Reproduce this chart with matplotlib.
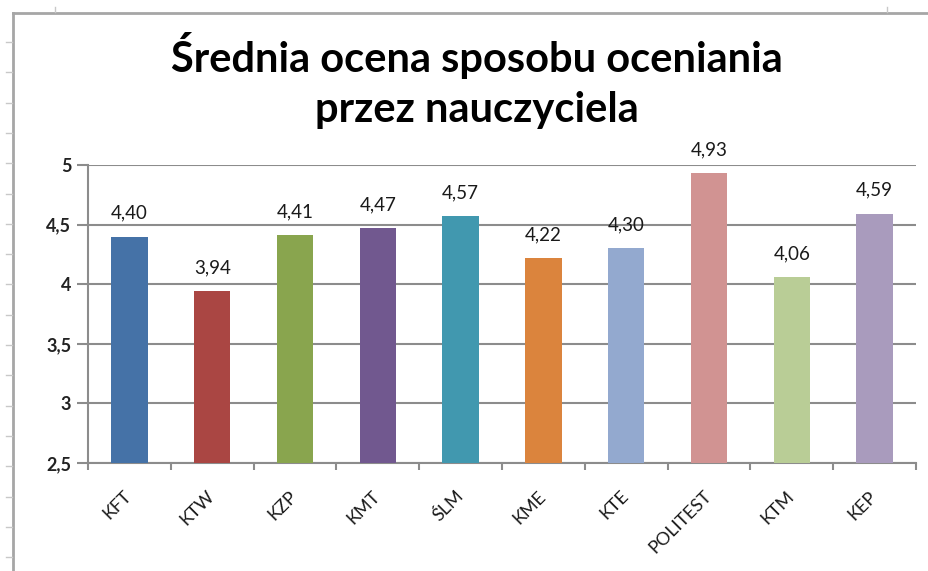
import matplotlib.pyplot as plt
import numpy as np
from matplotlib.lines import Line2D

# Data
categories = ['KFT', 'KTW', 'KZP', 'KMT', 'ŚLM', 'KME', 'KTE', 'POLITEST', 'KTM', 'KEP']
values = [4.40, 3.94, 4.41, 4.47, 4.57, 4.22, 4.30, 4.93, 4.06, 4.59]
colors = ['#4572A7', '#AA4643', '#89A54E', '#71588F', '#4198AF',
          '#DB843D', '#93A9CF', '#D19392', '#B9CD96', '#A99BBD']
yticks = [2.5, 3, 3.5, 4, 4.5, 5]
title_lines = ['Średnia ocena sposobu oceniania', 'przez nauczyciela']

plt.rcParams['font.family'] = ['Lato', 'DejaVu Sans']

fw, fh = 929, 571
fig = plt.figure(figsize=(fw / 100, fh / 100), dpi=100)
ax = fig.add_axes([0.0947, 0.189, 0.8913, 0.522])

x = np.arange(len(categories))
ax.bar(x, np.array(values) - 2.5, bottom=2.5, width=0.44, color=colors, zorder=3)

# value labels with comma decimals
for xi, v in zip(x, values):
    ax.annotate(f'{v:.2f}'.replace('.', ','), (xi, v), xytext=(0, 13),
                textcoords='offset points', ha='center', va='baseline',
                fontsize=13.5, color='#1a1a1a')

ax.set_xlim(-0.5, len(categories) - 0.5)
ax.set_ylim(2.5, 5)
ax.set_yticks(yticks)
ax.set_yticklabels([f'{t:g}'.replace('.', ',') for t in yticks], fontsize=13,
                   fontweight='bold', color='#222222')
ax.yaxis.grid(True, color='#8c8c8c', linewidth=1.5, zorder=0)

ax.set_xticks(x)
ax.set_xticklabels(categories, rotation=45, ha='right', va='center',
                   rotation_mode='anchor', fontsize=13, color='#1a1a1a')
ax.set_xticks(np.arange(-0.5, len(categories)), minor=True)
ax.tick_params(axis='x', which='major', length=0, pad=22)
ax.tick_params(axis='x', which='minor', length=5, width=1.5, color='#8c8c8c')
ax.tick_params(axis='y', length=8, width=1.5, color='#8c8c8c', pad=4)

for s in ['top', 'right']:
    ax.spines[s].set_visible(False)
for s in ['left', 'bottom']:
    ax.spines[s].set_color('#8c8c8c')
    ax.spines[s].set_linewidth(1.5)

# title, two lines placed by baseline
for line, base in zip(title_lines, [72, 122]):
    fig.text(0.513, 1 - base / fh, line, ha='center', va='baseline',
             fontsize=30, fontweight='bold', color='black')

# chart frame (left and top border) and sheet marks
fig.add_artist(Line2D([13 / fw, 13 / fw], [0, 1 - 13 / fh], color='#a6a6a6', lw=2,
                      transform=fig.transFigure))
fig.add_artist(Line2D([13 / fw, 1], [1 - 13 / fh, 1 - 13 / fh], color='#a6a6a6', lw=2,
                      transform=fig.transFigure))
for yy in np.arange(42, 571, 30.3):
    fig.add_artist(Line2D([6 / fw, 12 / fw], [1 - yy / fh] * 2, color='#c8c8c8', lw=1,
                          transform=fig.transFigure))
for xx in [55, 887]:
    fig.add_artist(Line2D([xx / fw] * 2, [1 - 7 / fh, 1 - 12 / fh], color='#c8c8c8', lw=1,
                          transform=fig.transFigure))

fig.savefig('out.png', dpi=100)
